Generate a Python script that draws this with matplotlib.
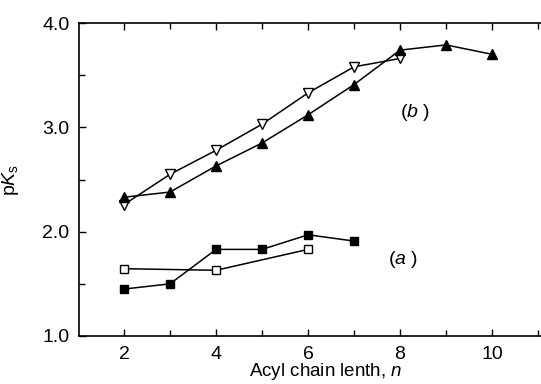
import numpy as np
import matplotlib
matplotlib.use('Agg')
import matplotlib.pyplot as plt
from matplotlib.ticker import MultipleLocator, FormatStrFormatter

plt.rcParams['font.family'] = ['Liberation Sans', 'DejaVu Sans']
plt.rcParams['mathtext.fontset'] = 'custom'
plt.rcParams['mathtext.rm'] = 'Liberation Sans'
plt.rcParams['mathtext.it'] = 'Liberation Sans:italic'

# (b) series
n_b_open = [2, 3, 4, 5, 6, 7, 8]
pk_b_open = [2.26, 2.55, 2.78, 3.03, 3.33, 3.58, 3.66]
n_b_fill = [2, 3, 4, 5, 6, 7, 8, 9, 10]
pk_b_fill = [2.33, 2.38, 2.63, 2.85, 3.12, 3.41, 3.74, 3.79, 3.70]

# (a) series
n_a_fill = [2, 3, 4, 5, 6, 7]
pk_a_fill = [1.45, 1.50, 1.83, 1.83, 1.97, 1.91]
n_a_open = [2, 4, 6]
pk_a_open = [1.645, 1.63, 1.83]

fig = plt.figure(figsize=(5.41, 3.84), dpi=100)
ax_w = 1 - 79 / 541 + 0.02
ax = fig.add_axes([79 / 541, 48 / 384, ax_w, 313 / 384])

lw = 1.1
ax.plot(n_b_open, pk_b_open, color='black', lw=lw, marker='v', ms=7,
        mfc='white', mec='black', mew=1.0)
ax.plot(n_b_fill, pk_b_fill, color='black', lw=lw, marker='^', ms=7,
        mfc='black', mec='black')
ax.plot(n_a_fill, pk_a_fill, color='black', lw=lw, marker='s', ms=5.5,
        mfc='black', mec='black')
ax.plot(n_a_open, pk_a_open, color='black', lw=lw, marker='s', ms=5.5,
        mfc='white', mec='black', mew=1.0)

ax.text(8.32, 3.14, r'($\it{b}$ )', fontsize=14, ha='center', va='center')
ax.text(8.06, 1.73, r'($\it{a}$ )', fontsize=14, ha='center', va='center')

ax.set_xlim(1.02, 11.3)
ax.set_ylim(1.0, 4.0)
ax.xaxis.set_major_locator(MultipleLocator(2))
ax.xaxis.set_minor_locator(MultipleLocator(1))
ax.yaxis.set_major_locator(MultipleLocator(1))
ax.yaxis.set_minor_locator(MultipleLocator(0.5))
ax.yaxis.set_major_formatter(FormatStrFormatter('%.1f'))

ax.tick_params(which='both', direction='in', top=True, right=False,
               labelsize=14, width=1.0)
ax.tick_params(which='major', length=5, pad=7)
ax.tick_params(which='minor', length=4)
ax.spines['right'].set_visible(False)
for s in ['left', 'top', 'bottom']:
    ax.spines[s].set_linewidth(1.2)

ax_px = ax_w * 541
ax.set_xlabel(r'Acyl chain lenth, $\it{n}$', fontsize=13.5)
ax.xaxis.set_label_coords((326 - 79) / ax_px, -0.08)
ax.set_ylabel(r'p$\it{K}_{\rm s}$', fontsize=14)
ax.yaxis.set_label_coords((21 - 79) / ax_px, 0.5)

fig.savefig('out.png', dpi=100)
